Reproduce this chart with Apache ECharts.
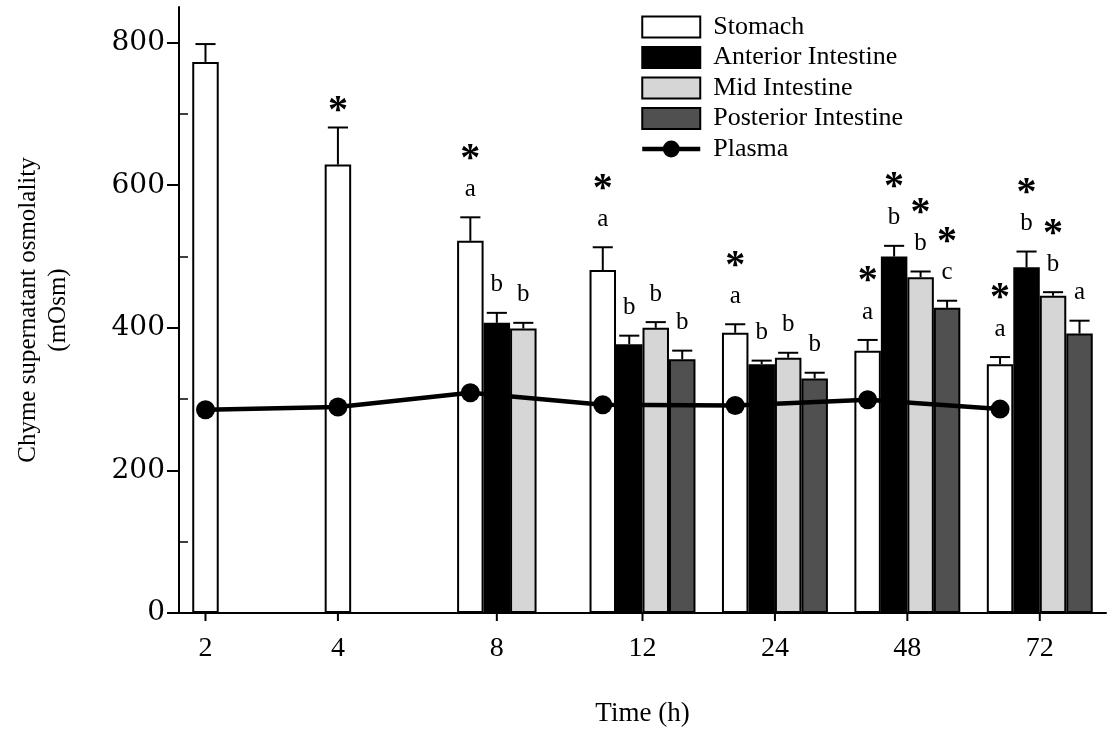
<!DOCTYPE html>
<html>
<head>
<meta charset="utf-8">
<script src="https://cdn.jsdelivr.net/npm/echarts@6/dist/echarts.min.js"></script>
<style>
html, body { margin: 0; padding: 0; background: #fff; }
#chart { width: 1109px; height: 733px; }
</style>
</head>
<body>
<div id="chart"></div>
<script>
// values (mOsm)
const times = ['2', '4', '8', '12', '24', '48', '72'];

const stomach     = [773, 629, 522, 481, 393, 368, 349];
const stomachSE   = [25, 52, 33, 32, 12, 15, 10];
const stomachLet  = ['', '', 'a', 'a', 'a', 'a', 'a'];
const stomachStar = ['', '*', '*', '*', '*', '*', '*'];

const anterior     = [null, null, 407, 377, 349, 500, 485];
const anteriorSE   = [null, null, 14, 12, 5, 15, 22];
const anteriorLet  = ['', '', 'b', 'b', 'b', 'b', 'b'];
const anteriorStar = ['', '', '', '', '', '*', '*'];

const mid     = [null, null, 399, 400, 358, 471, 445];
const midSE   = [null, null, 8, 8, 7, 8, 5];
const midLet  = ['', '', 'b', 'b', 'b', 'b', 'b'];
const midStar = ['', '', '', '', '', '*', '*'];

const posterior     = [null, null, null, 356, 329, 428, 392];
const posteriorSE   = [null, null, null, 12, 8, 10, 18];
const posteriorLet  = ['', '', '', 'b', 'b', 'c', 'a'];
const posteriorStar = ['', '', '', '', '', '*', ''];

const plasma = [285, 289, 309, 292, 291, 299, 286];

const yTicks = [0, 200, 400, 600, 800];
const yMinorTicks = [100, 300, 500, 700];

const FONT = '"Liberation Serif", "Times New Roman", serif';
const TICK_FONT = '"DejaVu Serif", serif';
const BAR_FRAC = 0.2; // each bar is 20% of a category band

const groups = [
    { name: 'Stomach', mean: stomach, se: stomachSE, letter: stomachLet, star: stomachStar, fill: '#ffffff' },
    { name: 'Anterior Intestine', mean: anterior, se: anteriorSE, letter: anteriorLet, star: anteriorStar, fill: '#000000' },
    { name: 'Mid Intestine', mean: mid, se: midSE, letter: midLet, star: midStar, fill: '#d6d6d6' },
    { name: 'Posterior Intestine', mean: posterior, se: posteriorSE, letter: posteriorLet, star: posteriorStar, fill: '#505050' }
];

let chart = echarts.init(document.getElementById('chart'));

function barX(api, cat, s) {
    let band = api.size([1, 0])[0];
    return api.coord([cat, 0])[0] + (s - 1.5) * band * BAR_FRAC;
}

function errorRender(params, api) {
    let cat = api.value(0);
    let s = api.value(1);
    let g = groups[s];
    let band = api.size([1, 0])[0];
    let bw = band * BAR_FRAC;
    let x = barX(api, cat, s);
    let y0 = api.coord([cat, g.mean[cat]])[1];
    let y1 = api.coord([cat, g.mean[cat] + g.se[cat]])[1];
    let cap = bw * 0.38;
    let line = { stroke: '#000', lineWidth: 2 };
    let children = [
        { type: 'line', shape: { x1: x, y1: y0, x2: x, y2: y1 }, style: line },
        { type: 'line', shape: { x1: x - cap, y1: y1, x2: x + cap, y2: y1 }, style: line }
    ];
    let yText = y1 - 28;
    if (g.letter[cat]) {
        children.push({
            type: 'text',
            style: { text: g.letter[cat], x: x, y: yText, align: 'center', verticalAlign: 'middle',
                     fontFamily: FONT, fontSize: 25, fill: '#000' }
        });
        yText -= 40;
    } else {
        yText = y1 - 26;
    }
    if (g.star[cat]) {
        children.push({
            type: 'text',
            style: { text: '*', x: x, y: yText + 10, align: 'center', verticalAlign: 'middle',
                     fontFamily: FONT, fontSize: 40, fontWeight: 'bold', fill: '#000' }
        });
    }
    return { type: 'group', children: children };
}

// x labels sit under the middle of the bars present at each time
function xLabelRender(params, api) {
    let cat = api.value(0);
    let xs = [];
    groups.forEach((g, s) => {
        if (g.mean[cat] != null) xs.push(barX(api, cat, s));
    });
    let cx = xs.reduce((a, b) => a + b, 0) / xs.length;
    let y = api.coord([cat, 0])[1];
    return {
        type: 'group',
        children: [
            { type: 'line', shape: { x1: cx, y1: y, x2: cx, y2: y + 8 }, style: { stroke: '#000', lineWidth: 2 } },
            { type: 'text', style: { text: times[cat], x: cx, y: y + 36, align: 'center', verticalAlign: 'middle',
                                     fontFamily: FONT, fontSize: 28, fill: '#000' } }
        ]
    };
}

let errData = [];
groups.forEach((g, s) => {
    g.mean.forEach((m, i) => {
        if (m != null) errData.push([i, s, m + g.se[i]]);
    });
});

let series = groups.map(g => ({
    name: g.name,
    type: 'bar',
    barWidth: (BAR_FRAC * 100) + '%',
    barGap: '0%',
    data: g.mean,
    itemStyle: { color: g.fill, borderColor: '#000', borderWidth: 2 },
    emphasis: { disabled: true }
}));

series.push({
    type: 'custom',
    renderItem: errorRender,
    encode: { x: 0, y: 2 },
    data: errData,
    clip: false,
    z: 5,
    silent: true
});

series.push({
    type: 'custom',
    renderItem: xLabelRender,
    encode: { x: 0, y: 1 },
    data: times.map((t, i) => [i, 0]),
    clip: false,
    z: 5,
    silent: true
});

series.push({
    name: 'Plasma',
    type: 'line',
    xAxisIndex: 1,
    data: plasma.map((v, i) => [i, v]),
    symbol: 'circle',
    symbolSize: 19,
    lineStyle: { color: '#000', width: 4.5 },
    itemStyle: { color: '#000' },
    z: 10,
    emphasis: { disabled: true }
});

let option = {
    backgroundColor: '#ffffff',
    animation: false,
    grid: { left: 179, right: 3, top: 7, bottom: 120 },
    legend: {
        data: [
            { name: 'Stomach', icon: 'rect' },
            { name: 'Anterior Intestine', icon: 'rect' },
            { name: 'Mid Intestine', icon: 'rect' },
            { name: 'Posterior Intestine', icon: 'rect' },
            { name: 'Plasma', lineStyle: { width: 4.5, color: '#000' } }
        ],
        orient: 'vertical',
        left: 635,
        top: 9,
        itemWidth: 58,
        itemHeight: 21,
        itemGap: 4.5,
        selectedMode: false,
        textStyle: { fontFamily: FONT, fontSize: 26, color: '#000', lineHeight: 24, padding: [0, 0, 0, 8] }
    },
    xAxis: [
        {
            type: 'category',
            data: times,
            axisLine: { onZero: false, lineStyle: { color: '#000', width: 2 } },
            axisTick: { show: false },
            axisLabel: { show: false },
            name: 'Time (h)',
            nameLocation: 'middle',
            nameGap: 87,
            nameTextStyle: { fontFamily: FONT, fontSize: 27, color: '#000' }
        },
        {
            type: 'value',
            show: false,
            // line points sit on the stomach bar of each group
            min: -0.5 + 1.5 * BAR_FRAC,
            max: times.length - 0.5 + 1.5 * BAR_FRAC
        }
    ],
    yAxis: [
        {
            type: 'value',
            min: 0,
            max: 850,
            axisLine: { show: true, onZero: false, lineStyle: { color: '#000', width: 2 } },
            axisTick: { show: true, length: 12, lineStyle: { color: '#000', width: 2 }, customValues: yTicks },
            axisLabel: { fontFamily: TICK_FONT, fontSize: 28, color: '#000', margin: 14, customValues: yTicks },
            splitLine: { show: false },
            name: 'Chyme supernatant osmolality\n(mOsm)',
            nameLocation: 'middle',
            nameGap: 106,
            nameTextStyle: { fontFamily: FONT, fontSize: 25, color: '#000', lineHeight: 30 }
        },
        {
            type: 'value',
            min: 0,
            max: 850,
            position: 'left',
            axisLine: { show: false, onZero: false },
            axisTick: { show: true, inside: true, length: 9, lineStyle: { color: '#000', width: 1.5 }, customValues: yMinorTicks },
            axisLabel: { show: false },
            splitLine: { show: false }
        }
    ],
    series: series
};

chart.setOption(option);
</script>
</body>
</html>
